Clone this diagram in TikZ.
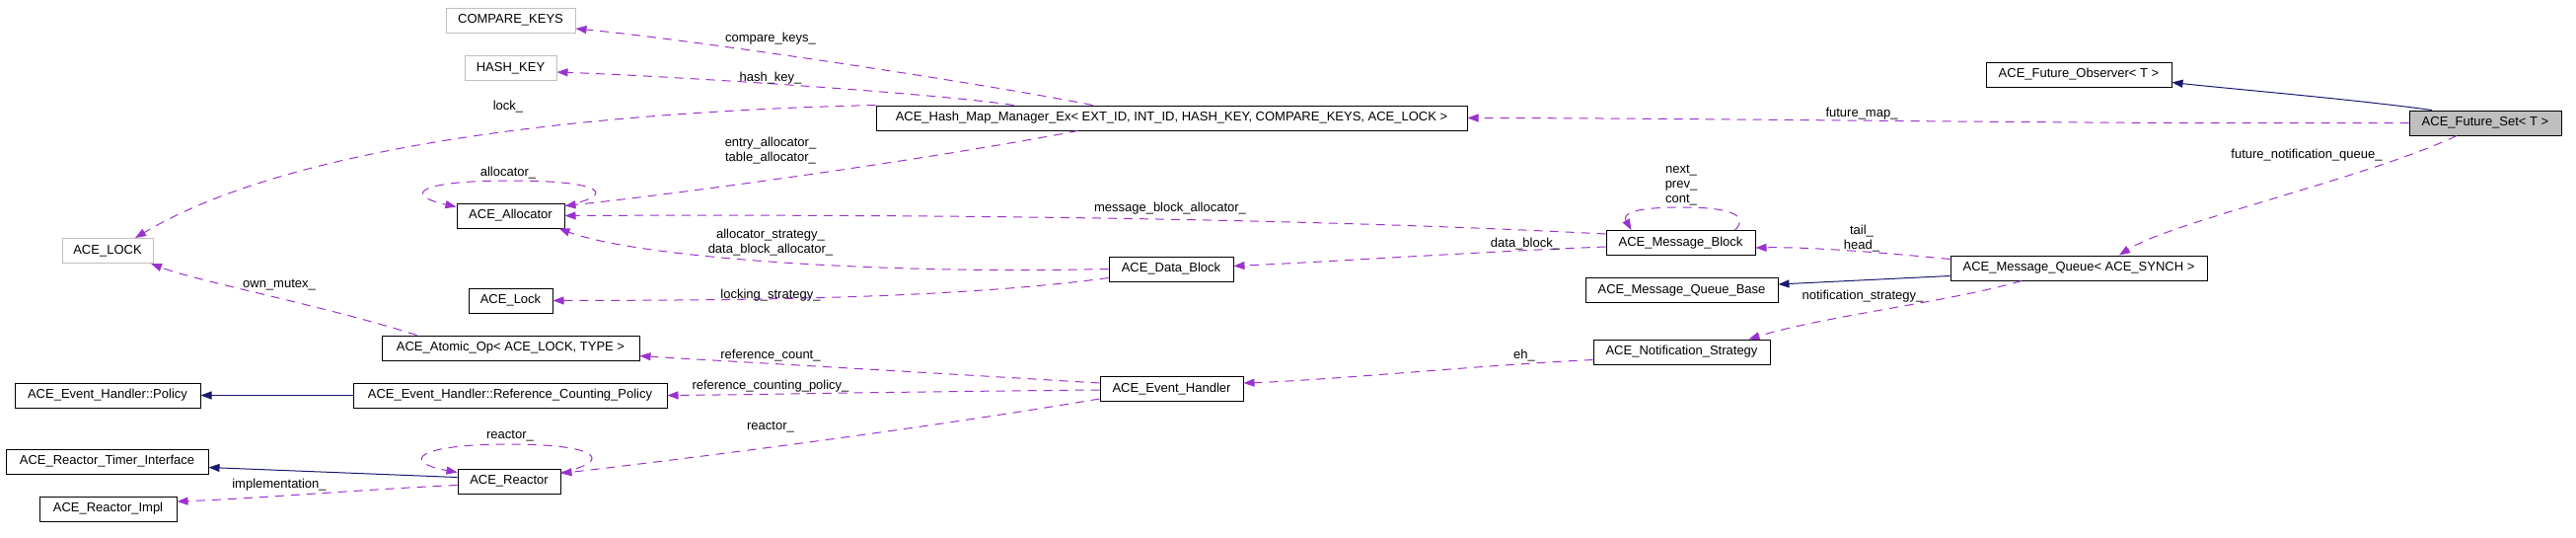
\documentclass[tikz,border=0pt]{standalone}
\usepackage{fontspec}
\setmainfont{Liberation Sans}
\usepackage{tikz}
\usetikzlibrary{arrows.meta}

\definecolor{inhblue}{HTML}{191970}
\definecolor{usepurple}{HTML}{9A32CD}
\definecolor{extgray}{HTML}{BFBFBF}

\tikzset{
  cls/.style={draw=black, line width=1pt, minimum height=25pt, minimum width=#1, inner xsep=4pt, inner ysep=0pt,
    font=\fontsize{13}{15}\selectfont},
  cls/.default=10pt,
  extcls/.style={cls=#1, draw=extgray},
  curcls/.style={cls=#1, fill=extgray},
  lbl/.style={inner sep=0pt, align=center, font=\fontsize{13}{15}\selectfont},
  inherits/.style={draw=inhblue, line width=1pt, -{Triangle[length=11pt,width=8pt]}},
  uses/.style={draw=usepurple, line width=1pt, dash pattern=on 9pt off 7pt,
    -{Triangle[length=11pt,width=8pt]}},
}

\begin{document}
\begin{tikzpicture}[x=1pt, y=-1pt]
        \useasboundingbox (0,0) rectangle (2611,544);

        % left column
        \node[extcls=131pt] (compkeys) at (517.5, 20.5) {COMPARE\_KEYS};
        \node[extcls=93pt] (hashkey) at (517.5, 69) {HASH\_KEY};
        \node[extcls=92pt] (acelock) at (109, 254) {ACE\_LOCK};
        \node[cls=109pt] (alloc) at (517.5, 218.5) {ACE\_Allocator};
        \node[cls=85pt] (lock) at (517.5, 304.5) {ACE\_Lock};
        \node[cls=261pt] (atomic) at (517.5, 352.5) {ACE\_Atomic\_Op< ACE\_LOCK, TYPE >};
        \node[cls=188pt] (policy) at (109, 400.5) {ACE\_Event\_Handler::Policy};
        \node[cls=318pt] (rcpolicy) at (517, 400.5) {ACE\_Event\_Handler::Reference\_Counting\_Policy};
        \node[cls=205pt] (rtimer) at (108.5, 467.5) {ACE\_Reactor\_Timer\_Interface};
        \node[cls=104pt] (reactor) at (516, 487.5) {ACE\_Reactor};
        \node[cls=139pt] (rimpl) at (109.5, 515.5) {ACE\_Reactor\_Impl};

        % middle
        \node[cls=599pt] (hashmap) at (1187.5, 119.5) {ACE\_Hash\_Map\_Manager\_Ex< EXT\_ID, INT\_ID, HASH\_KEY, COMPARE\_KEYS, ACE\_LOCK >};
        \node[cls=126pt] (datablock) at (1187, 272.5) {ACE\_Data\_Block};
        \node[cls=145pt] (evhandler) at (1187.5, 394) {ACE\_Event\_Handler};
        \node[cls=151pt] (msgblock) at (1703.5, 246) {ACE\_Message\_Block};
        \node[cls=195pt] (mqbase) at (1704.5, 294) {ACE\_Message\_Queue\_Base};
        \node[cls=179pt] (notif) at (1704.5, 356.5) {ACE\_Notification\_Strategy};

        % right
        \node[cls=260pt] (mqueue) at (2107, 271.5) {ACE\_Message\_Queue< ACE\_SYNCH >};
        \node[cls=188pt] (observer) at (2107, 75.5) {ACE\_Future\_Observer< T >};
        \node[curcls=154pt] (futureset) at (2519, 124.5) {ACE\_Future\_Set< T >};

        % inheritance
        \draw[inherits] ([xshift=-54pt]futureset.north) .. controls (2380,100) and (2260,90) .. ([yshift=-8pt]observer.east);
        \draw[inherits] ([yshift=-8pt]mqueue.west) -- ([yshift=6pt]mqbase.east);
        \draw[inherits] (rcpolicy.west) -- (policy.east);
        \draw[inherits] ([yshift=4pt]reactor.west) -- ([yshift=-6pt]rtimer.east);

        % members
        \draw[uses] (futureset.west) .. controls (2100,126) and (1800,120) .. (hashmap.east);
        \node[lbl] (lfmap) at (1887, 115) {future\_map\_};
        \draw[uses] ([xshift=-29pt]futureset.south) .. controls (2400,180) and (2200,225) .. ([xshift=41pt]mqueue.north);
        \node[lbl] (lfnq) at (2338, 157) {future\_notification\_queue\_};

        \draw[uses] ([xshift=-80pt]hashmap.north) .. controls (1000,85) and (700,40) .. ([yshift=-8.5pt]compkeys.east);
        \node[lbl] (lcompare) at (781, 39) {compare\_keys\_};
        \draw[uses] ([xshift=-160pt]hashmap.north) .. controls (950,95) and (700,78) .. ([yshift=-4pt]hashkey.east);
        \node[lbl] (lhash) at (781, 79) {hash\_key\_};
        \draw[uses] (hashmap.north west) .. controls (650,112) and (310,138) .. ([xshift=28pt]acelock.north);
        \node[lbl] (llock) at (515, 108) {lock\_};
        \draw[uses] ([xshift=-95pt]hashmap.south) .. controls (950,160) and (700,195) .. ([yshift=10pt]alloc.east);
        \node[lbl] (lentry) at (781, 152.5) {entry\_allocator\_\\table\_allocator\_};

        \draw[uses] ([yshift=10pt]alloc.east) .. controls (625,198) and (615,183) .. (517,183)
          .. controls (420,183) and (410,198) .. ([yshift=9pt]alloc.west);
        \node[lbl] (lallocself) at (515, 175) {allocator\_};

        \draw[uses] ([yshift=9pt]msgblock.west) .. controls (1300,220) and (900,217) .. (alloc.east);
        \node[lbl] (lmballoc) at (1186, 211) {message\_block\_allocator\_};
        \draw[uses] (datablock.west) .. controls (900,278) and (650,262) .. ([xshift=-6pt]alloc.south east);
        \node[lbl] (lallocstrat) at (781, 246) {allocator\_strategy\_\\data\_block\_allocator\_};
        \draw[uses] ([yshift=-9pt]datablock.west) .. controls (950,305) and (700,304) .. (lock.east);
        \node[lbl] (llocking) at (781, 299) {locking\_strategy\_};

        \draw[uses] ([xshift=55pt]msgblock.north) .. controls (1770,222) and (1765,210) .. (1705,210)
          .. controls (1650,210) and (1645,218) .. ([xshift=-50pt]msgblock.north);
        \node[lbl] (lnext) at (1704, 188) {next\_\\prev\_\\cont\_};
        \draw[uses] ([yshift=-4pt]msgblock.west) .. controls (1500,255) and (1350,265) .. ([yshift=3pt]datablock.east);
        \node[lbl] (ldatablock) at (1546, 247) {data\_block\_};
        \draw[uses] ([yshift=9pt]mqueue.west) .. controls (1900,255) and (1830,250) .. ([yshift=-5pt]msgblock.east);
        \node[lbl] (ltail) at (1887, 242) {tail\_\\head\_};
        \draw[uses] ([xshift=-58pt]mqueue.south) .. controls (1980,305) and (1850,320) .. ([xshift=68pt]notif.north);
        \node[lbl] (lnotif) at (1888, 300) {notification\_strategy\_};
        \draw[uses] ([yshift=-8pt]notif.west) .. controls (1500,370) and (1350,385) .. ([yshift=6pt]evhandler.east);
        \node[lbl] (leh) at (1545, 360) {eh\_};

        \draw[uses] ([xshift=-95pt]atomic.north) .. controls (330,310) and (200,285) .. ([xshift=44pt]acelock.south);
        \node[lbl] (lownmutex) at (283, 289) {own\_mutex\_};
        \draw[uses] ([yshift=6pt]evhandler.west) .. controls (900,375) and (720,365) .. ([yshift=-8pt]atomic.east);
        \node[lbl] (lrefcount) at (781, 360) {reference\_count\_};
        \draw[uses] ([yshift=-1pt]evhandler.west) .. controls (900,397) and (750,400) .. (rcpolicy.east);
        \node[lbl] (lrcpolicy) at (781, 391) {reference\_counting\_policy\_};
        \draw[uses] ([yshift=-10pt]evhandler.west) .. controls (900,440) and (650,470) .. ([yshift=8pt]reactor.east);
        \node[lbl] (lreactor) at (781, 433) {reactor\_};

        \draw[uses] ([yshift=9pt]reactor.east) .. controls (621,468) and (611,450) .. (516,450)
          .. controls (421,450) and (406,468) .. ([yshift=9pt]reactor.west);
        \node[lbl] (lreactorself) at (517, 442) {reactor\_};
        \draw[uses] ([yshift=-4pt]reactor.west) .. controls (380,495) and (260,505) .. ([yshift=7.5pt]rimpl.east);
        \node[lbl] (limpl) at (283, 491) {implementation\_};
\end{tikzpicture}
\end{document}
